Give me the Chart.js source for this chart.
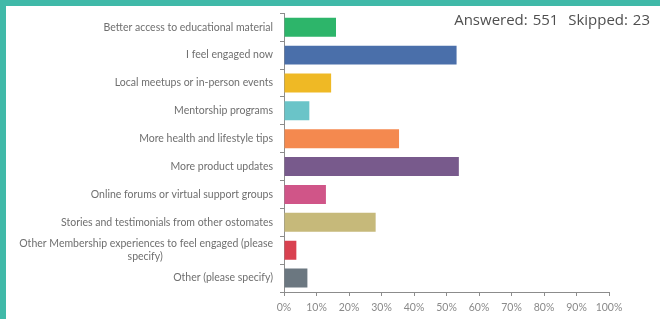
<!DOCTYPE html>
<html>
<head>
<meta charset="utf-8">
<script src="https://cdn.jsdelivr.net/npm/chart.js@4.4.0/dist/chart.umd.min.js"></script>
<style>
  html, body { margin: 0; padding: 0; background: #fff; }
  #wrap { position: relative; width: 660px; height: 319px; overflow: hidden; }
  #bandTop { position: absolute; left: 0; top: 0; width: 660px; height: 6px; background: #40b9a8; }
  #bandLeft { position: absolute; left: 0; top: 0; width: 6px; height: 319px; background: #40b9a8; }
  #stats { position: absolute; right: 10px; top: 9px; font-family: "Open Sans", sans-serif; font-size: 15px; color: #4f4f4f; word-spacing: 1px; }
  canvas { position: absolute; left: 0; top: 0; }
</style>
</head>
<body>
<div id="wrap">
  <canvas id="grafico" width="660" height="319"></canvas>
  <div id="bandTop"></div>
  <div id="bandLeft"></div>
  <div id="stats">Answered: 551&nbsp; Skipped: 23</div>
</div>
<script>
// Categorías y valores (porcentaje de respuestas)
const categorias = [
    "Better access to educational material",
    "I feel engaged now",
    "Local meetups or in-person events",
    "Mentorship programs",
    "More health and lifestyle tips",
    "More product updates",
    "Online forums or virtual support groups",
    "Stories and testimonials from other ostomates",
    ["Other Membership experiences to feel engaged (please", "specify)"],
    "Other (please specify)"
];
const porcentajes = [16, 53.1, 14.5, 7.8, 35.4, 53.8, 12.9, 28.2, 3.8, 7.2];
const colores = ["#2db56a", "#4a6faa", "#efb925", "#6ac4c8", "#f4894f", "#785a8c", "#d05588", "#c6b97a", "#d94150", "#6b7780"];
const ticksX = [0, 10, 20, 30, 40, 50, 60, 70, 80, 90, 100];

// Centra cada línea de las etiquetas de dos líneas (Chart.js las alinea a la derecha)
const medir = document.createElement("canvas").getContext("2d");
medir.font = "10.5px Lato";
function centrarLineas(etiqueta) {
    if (!Array.isArray(etiqueta)) return etiqueta;
    const anchos = etiqueta.map(l => medir.measureText(l).width);
    const maximo = Math.max(...anchos);
    const espacio = medir.measureText(" ").width;
    return etiqueta.map((l, i) => l + " ".repeat(Math.round((maximo - anchos[i]) / 2 / espacio)));
}

const ctx = document.getElementById("grafico").getContext("2d");
new Chart(ctx, {
    type: "bar",
    data: {
        labels: categorias,
        datasets: [{
            data: porcentajes,
            backgroundColor: colores,
            borderWidth: 0,
            barPercentage: 0.68,
            categoryPercentage: 1
        }]
    },
    options: {
        indexAxis: "y",
        responsive: false,
        animation: false,
        layout: { padding: { top: 12, right: 51, bottom: 0, left: 0 } },
        plugins: { legend: { display: false }, tooltip: { enabled: false } },
        scales: {
            x: {
                min: 0,
                max: 100,
                afterBuildTicks: (scale) => { scale.ticks = ticksX.map(v => ({ value: v })); },
                afterFit: (scale) => { scale.height = 27; },
                border: { color: "#8c8c8c", width: 1 },
                grid: { drawOnChartArea: false, tickLength: 4, color: "#8c8c8c" },
                ticks: {
                    color: "#8a8a8a",
                    font: { family: "Lato", size: 10.5 },
                    padding: 5,
                    maxRotation: 0,
                    callback: (v) => v + "%"
                }
            },
            y: {
                afterFit: (scale) => { scale.width = 284; },
                border: { color: "#8c8c8c", width: 1 },
                grid: { drawOnChartArea: false, tickLength: 4, color: "#8c8c8c", offset: true },
                ticks: {
                    color: "#6f6f6f",
                    font: { family: "Lato", size: 10.5 },
                    padding: 7,
                    autoSkip: false,
                    callback: function (v) { return centrarLineas(this.getLabelForValue(v)); }
                }
            }
        }
    }
});
</script>
</body>
</html>
